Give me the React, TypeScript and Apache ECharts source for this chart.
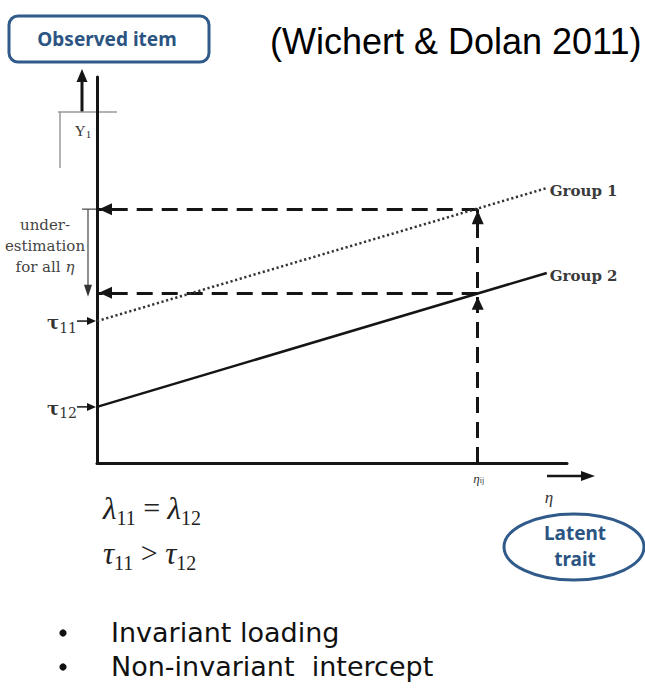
import { useEffect, useRef } from 'react';
import * as echarts from 'echarts';

const W = 645;
const H = 692;

// ---- data ----
const xRange = [0, 10];
const yRange = [0, 13];
const group1Line = [[0, 4.78], [9.57, 9.26]];
const group2Line = [[0, 1.89], [9.57, 6.4]];
const etaIJ = 8.1;
const group1AtEta = 8.55;
const group2AtEta = 5.73;
const groupNames = ['Group 1', 'Group 2'];
const tauNames = ['11', '12'];
const bracketLines = ['under-', 'estimation', 'for all '];
const bullets = ['Invariant loading', 'Non-invariant  intercept'];
const titleText = '(Wichert & Dolan 2011)';

const SERIF = "'Liberation Serif', serif";
const CAMB = "'DejaVu Serif', serif";
const BULLETFONT = "'DejaVu Sans', 'Open Sans', sans-serif";
const BOXFONT = "'Noto Sans', 'Open Sans', sans-serif";
const BLUE = '#2f5a8a';
const INK = '#151515';

export default function App() {
  const ref = useRef<HTMLDivElement | null>(null);
  useEffect(() => {
    if (!ref.current) return;
    const chart = echarts.init(ref.current, null, { renderer: 'svg', width: W, height: H });
    chart.setOption({
      animation: false,
      backgroundColor: '#ffffff',
      grid: { left: 97, right: 78, top: 77, bottom: 229 },
      xAxis: {
        type: 'value', min: xRange[0], max: xRange[1],
        axisLine: { show: true, lineStyle: { color: INK, width: 3 } },
        axisTick: { show: false }, axisLabel: { show: false }, splitLine: { show: false },
      },
      yAxis: {
        type: 'value', min: yRange[0], max: yRange[1],
        axisLine: { show: true, lineStyle: { color: INK, width: 3 } },
        axisTick: { show: false }, axisLabel: { show: false }, splitLine: { show: false },
      },
      series: [
        {
          name: groupNames[0], type: 'line', data: group1Line, showSymbol: false, silent: true,
          lineStyle: { color: '#333', width: 2.5, type: [2.2, 2.6] },
        },
        {
          name: groupNames[1], type: 'line', data: group2Line, showSymbol: false, silent: true,
          lineStyle: { color: INK, width: 2.5 },
        },
        {
          type: 'lines', coordinateSystem: 'cartesian2d', silent: true,
          lineStyle: { color: INK, width: 3, type: [16, 9], opacity: 1 },
          data: [
            { coords: [[etaIJ, group1AtEta], [0, group1AtEta]] },
            { coords: [[etaIJ, group2AtEta], [0, group2AtEta]] },
            { coords: [[etaIJ, 0], [etaIJ, group1AtEta]] },
          ],
        },
      ],
    });

    const p = (x: number, y: number) => chart.convertToPixel({ gridIndex: 0 }, [x, y]) as number[];
    const g: any[] = [];
    const tri = (pts: number[][], fill = INK) => g.push({ type: 'polygon', shape: { points: pts }, style: { fill }, silent: true });
    const seg = (x1: number, y1: number, x2: number, y2: number, stroke = INK, lineWidth = 2) =>
      g.push({ type: 'line', shape: { x1, y1, x2, y2 }, style: { stroke, lineWidth }, silent: true });
    const txt = (x: number, y: number, style: any) => g.push({ type: 'text', x, y, silent: true, style: { verticalAlign: 'middle', ...style } });
    const sub = (mainFont: string, subFont: string, drop: number, fill: string) => ({
      a: { font: mainFont, fill, verticalAlign: 'top' },
      b: { font: subFont, fill, verticalAlign: 'top', padding: [drop, 0, 0, 0] },
    });

    // title
    txt(270, 41, { text: titleText, font: `36px 'Liberation Sans', Arial, sans-serif`, fill: '#000', align: 'left' });

    // Observed item box
    g.push({ type: 'rect', shape: { x: 9, y: 16, width: 200, height: 46, r: 9 }, style: { fill: '#fff', stroke: BLUE, lineWidth: 3 }, silent: true });
    txt(107, 39, { text: 'Observed item', font: `bold 19px ${BOXFONT}`, fill: '#2b5482', align: 'center' });

    // Y1 box and up arrow
    seg(82, 112, 82, 80, INK, 3);
    tri([[82, 69], [76.5, 82], [87.5, 82]]);
    seg(58, 112, 117, 112, '#999', 1.5);
    seg(60, 112, 60, 168, '#999', 1.5);
    txt(83, 131, { text: '{a|Y}{b|1}', align: 'center', rich: sub(`15px ${SERIF}`, `11px ${SERIF}`, 5, '#333') });

    // dashed arrowheads
    const l1 = p(0, group1AtEta);
    const l2 = p(0, group2AtEta);
    const ax = l1[0] + 2;
    tri([[ax, l1[1]], [ax + 13, l1[1] - 6], [ax + 13, l1[1] + 6]]);
    tri([[ax, l2[1]], [ax + 13, l2[1] - 6], [ax + 13, l2[1] + 6]]);
    const v1 = p(etaIJ, group1AtEta);
    const v2 = p(etaIJ, group2AtEta);
    tri([[v1[0], v1[1] + 1], [v1[0] - 6, v1[1] + 15], [v1[0] + 6, v1[1] + 15]]);
    tri([[v2[0], v2[1] + 4], [v2[0] - 6, v2[1] + 17], [v2[0] + 6, v2[1] + 17]]);

    // under-estimation bracket
    const bx = l1[0] - 9;
    seg(bx - 6, l1[1], l1[0], l1[1], '#444', 1.2);
    seg(bx, l1[1], bx, l2[1] - 6, '#444', 1.2);
    tri([[bx, l2[1] + 4], [bx - 4, l2[1] - 8], [bx + 4, l2[1] - 8]], '#333');
    const bxText = 45;
    txt(bxText, l1[1] + 16, { text: bracketLines[0], font: `15px ${CAMB}`, fill: '#444', align: 'center' });
    txt(bxText, l1[1] + 37, { text: bracketLines[1], font: `15px ${CAMB}`, fill: '#444', align: 'center' });
    txt(bxText, l1[1] + 58, {
      text: `{a|${bracketLines[2]}}{b|η}`, align: 'center',
      rich: { a: { font: `15px ${CAMB}`, fill: '#444' }, b: { font: `italic 15px ${CAMB}`, fill: '#444' } },
    });

    // tau arrows and labels
    [group1Line[0], group2Line[0]].forEach((pt, i) => {
      const q = p(pt[0], pt[1]);
      seg(q[0] - 20, q[1], q[0] - 8, q[1], INK, 1.5);
      tri([[q[0] - 1, q[1]], [q[0] - 10, q[1] - 4], [q[0] - 10, q[1] + 4]]);
      txt(q[0] - 20, q[1] + 3, {
        text: `{a|τ}{b|${tauNames[i]}}`, align: 'right',
        rich: sub(`bold 18px ${CAMB}`, `14px ${CAMB}`, 7, '#333'),
      });
    });

    // group labels
    [group1Line[1], group2Line[1]].forEach((pt, i) => {
      const q = p(pt[0], pt[1]);
      txt(q[0] + 3, q[1] + 3, { text: groupNames[i], font: `bold 15px ${CAMB}`, fill: '#3a3a3a', align: 'left' });
    });

    // eta_ij label and eta axis arrow
    const e0 = p(etaIJ, 0);
    txt(e0[0] + 1, e0[1] + 15, { text: '{a|η}{b|ij}', align: 'center', rich: sub(`italic 13px ${SERIF}`, `8px ${SERIF}`, 5, '#333') });
    const xEnd = p(xRange[1], 0);
    seg(xEnd[0] - 20, xEnd[1] + 13, xEnd[0] + 16, xEnd[1] + 13, INK, 2.5);
    tri([[xEnd[0] + 28, xEnd[1] + 13], [xEnd[0] + 14, xEnd[1] + 8], [xEnd[0] + 14, xEnd[1] + 18]]);
    txt(xEnd[0] - 18, xEnd[1] + 34, { text: 'η', font: `italic 17px ${SERIF}`, fill: '#333', align: 'center' });

    // Latent trait ellipse
    g.push({ type: 'ellipse', shape: { cx: 574, cy: 547, rx: 70, ry: 33 }, style: { fill: '#fff', stroke: BLUE, lineWidth: 3 }, silent: true });
    txt(575, 533, { text: 'Latent', font: `bold 19px ${BOXFONT}`, fill: '#2b5482', align: 'center' });
    txt(575, 559, { text: 'trait', font: `bold 19px ${BOXFONT}`, fill: '#2b5482', align: 'center' });

    // formulas
    const fr = {
      a: { font: `30px ${SERIF}`, fill: '#222', verticalAlign: 'top' },
      c: { font: `italic 31px ${SERIF}`, fill: '#222', verticalAlign: 'top' },
      b: { font: `20px ${SERIF}`, fill: '#222', verticalAlign: 'top', padding: [15, 0, 0, 0] },
    };
    txt(103, 510, { text: '{c|λ}{b|11}{a| = }{c|λ}{b|12}', align: 'left', rich: fr });
    txt(103, 555, { text: '{c|τ}{b|11}{a| > }{c|τ}{b|12}', align: 'left', rich: fr });

    // bullets
    bullets.forEach((b, i) => {
      const y = 632 + i * 34;
      g.push({ type: 'circle', shape: { cx: 63, cy: y + 1, r: 3.6 }, style: { fill: '#111' }, silent: true });
      txt(111, y, { text: b, font: `27px ${BULLETFONT}`, fill: '#111', align: 'left' });
    });

    chart.setOption({ graphic: { elements: g } });
    return () => chart.dispose();
  }, []);
  return <div ref={ref} style={{ position: 'fixed', left: 0, top: 0, width: W, height: H }} />;
}
